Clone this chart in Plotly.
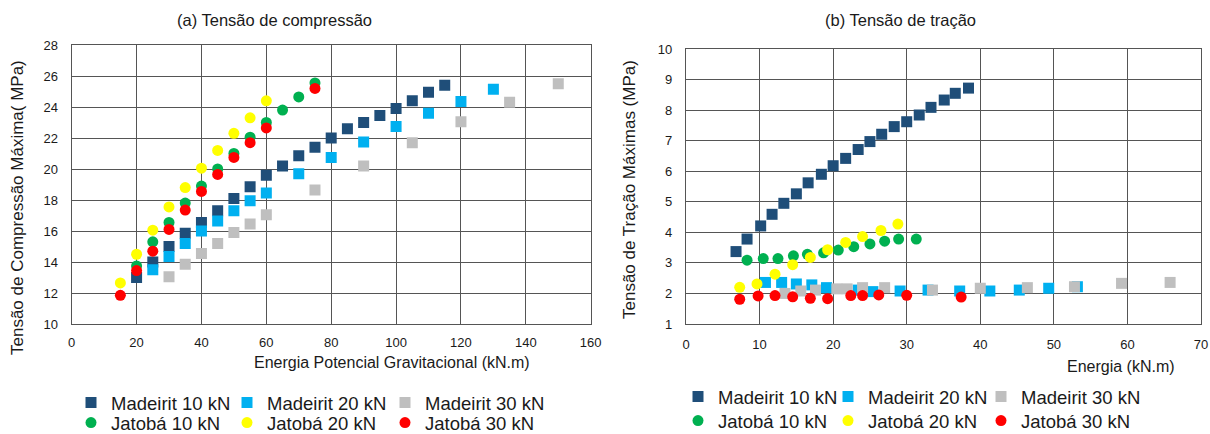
import plotly.graph_objects as go

# ---------------- data: (a) compression ----------------
a_mad10_x = [20, 25, 30, 35, 40, 45, 50, 55, 60, 65, 70, 75, 80, 85, 90, 95, 100, 105, 110, 115]
a_mad10_y = [13.0, 14.0, 15.0, 15.85, 16.55, 17.3, 18.1, 18.85, 19.6, 20.2, 20.85, 21.4, 22.0, 22.6, 23.0, 23.45, 23.9, 24.4, 24.95, 25.4]
a_mad20_x = [25, 30, 35, 40, 45, 50, 55, 60, 70, 80, 90, 100, 110, 120, 130]
a_mad20_y = [13.5, 14.35, 15.2, 16.0, 16.65, 17.3, 17.95, 18.45, 19.7, 20.75, 21.75, 22.75, 23.6, 24.35, 25.15]
a_mad30_x = [30, 35, 40, 45, 50, 55, 60, 75, 90, 105, 120, 135, 150]
a_mad30_y = [13.05, 13.85, 14.55, 15.2, 15.9, 16.45, 17.05, 18.65, 20.2, 21.7, 23.05, 24.3, 25.5]
a_jat10_x = [20, 25, 30, 35, 40, 45, 50, 55, 60, 65, 70, 75]
a_jat10_y = [13.75, 15.3, 16.55, 17.8, 18.9, 20.0, 21.0, 22.05, 23.0, 23.8, 24.65, 25.55]
a_jat20_x = [15, 20, 25, 30, 35, 40, 45, 50, 55, 60]
a_jat20_y = [12.65, 14.5, 16.05, 17.55, 18.8, 20.05, 21.2, 22.3, 23.3, 24.4]
a_jat30_x = [15, 20, 25, 30, 35, 40, 45, 50, 55, 60, 75]
a_jat30_y = [11.85, 13.45, 14.7, 16.1, 17.35, 18.55, 19.65, 20.75, 21.7, 22.65, 25.2]

# ---------------- data: (b) tension ----------------
b_mad10_x = [6.8, 8.3, 10.15, 11.7, 13.3, 15.0, 16.6, 18.4, 20.0, 21.7, 23.4, 25.0, 26.6, 28.3, 30.0, 31.7, 33.3, 35.1, 36.6, 38.4]
b_mad10_y = [3.37, 3.78, 4.21, 4.59, 4.95, 5.26, 5.62, 5.9, 6.18, 6.42, 6.71, 6.97, 7.21, 7.46, 7.62, 7.84, 8.09, 8.33, 8.55, 8.72]
b_mad20_x = [10.8, 13.0, 15.0, 17.1, 19.1, 23.4, 25.4, 29.1, 32.9, 37.2, 41.3, 45.3, 49.3, 53.2]
b_mad20_y = [2.36, 2.36, 2.31, 2.28, 2.19, 2.11, 2.06, 2.08, 2.11, 2.08, 2.08, 2.11, 2.17, 2.22]
b_mad30_x = [13.45, 15.6, 17.6, 20.5, 21.9, 24.0, 27.0, 33.5, 40.0, 46.4, 52.8, 59.2, 65.8]
b_mad30_y = [2.0, 2.08, 2.11, 2.15, 2.15, 2.19, 2.19, 2.11, 2.17, 2.19, 2.22, 2.33, 2.36]
b_jat10_x = [8.3, 10.5, 12.5, 14.6, 16.5, 18.7, 20.7, 22.8, 25.0, 27.0, 28.9, 31.3]
b_jat10_y = [3.09, 3.14, 3.14, 3.23, 3.28, 3.33, 3.42, 3.53, 3.62, 3.71, 3.78, 3.78]
b_jat20_x = [7.3, 9.65, 12.1, 14.5, 16.9, 19.25, 21.7, 24.0, 26.5, 28.8]
b_jat20_y = [2.2, 2.31, 2.63, 2.94, 3.18, 3.43, 3.67, 3.86, 4.06, 4.27]
b_jat30_x = [7.3, 9.8, 12.1, 14.5, 16.9, 19.25, 22.4, 24.0, 26.2, 30.0, 37.4]
b_jat30_y = [1.81, 1.92, 1.93, 1.89, 1.84, 1.83, 1.93, 1.93, 1.95, 1.94, 1.88]

series_names = ["Madeirit 10 kN", "Madeirit 20 kN", "Madeirit 30 kN",
                "Jatobá 10 kN", "Jatobá 20 kN", "Jatobá 30 kN"]
series_colors = ["#1F4E79", "#00B0F0", "#BFBFBF", "#00B050", "#FFFF00", "#FF0000"]
series_symbols = ["square", "square", "square", "circle", "circle", "circle"]

a_data = [(a_mad10_x, a_mad10_y), (a_mad20_x, a_mad20_y), (a_mad30_x, a_mad30_y),
          (a_jat10_x, a_jat10_y), (a_jat20_x, a_jat20_y), (a_jat30_x, a_jat30_y)]
b_data = [(b_mad10_x, b_mad10_y), (b_mad20_x, b_mad20_y), (b_mad30_x, b_mad30_y),
          (b_jat10_x, b_jat10_y), (b_jat20_x, b_jat20_y), (b_jat30_x, b_jat30_y)]

W, H = 1210, 434
FONT = "Liberation Sans, Arial, sans-serif"
TXT = "#1a1a1a"
GRID = "#555555"

def px(x):
    return x / W

def py(y):
    return 1 - y / H

fig = go.Figure()

# legend positions (window pixels): marker centres per column, row centres
a_cols = [95, 251, 409]
a_rows = [403, 423]
b_cols = [702, 852, 1005]
b_rows = [397, 421]

legend_layouts = {}
idx = 0
for chart, data, xa, ya, cols, rows in [("a", a_data, "x", "y", a_cols, a_rows),
                                        ("b", b_data, "x2", "y2", b_cols, b_rows)]:
    for i, (xs, ys) in enumerate(data):
        idx += 1
        lname = "legend" if idx == 1 else f"legend{idx}"
        fig.add_trace(go.Scatter(
            x=xs, y=ys, mode="markers", name=series_names[i],
            xaxis=xa, yaxis=ya,
            marker=dict(symbol=series_symbols[i], size=11, color=series_colors[i],
                        line=dict(width=0)),
            legend=lname, showlegend=True,
        ))
        c = cols[i % 3]
        r = rows[i // 3]
        legend_layouts[lname] = dict(
            x=px(c - 24), y=py(r), xanchor="left", yanchor="middle",
            bgcolor="rgba(0,0,0,0)", borderwidth=0,
            font=dict(family=FONT, size=18.5, color=TXT),
            itemwidth=30,
        )

axis_common = dict(
    showgrid=True, gridcolor=GRID, gridwidth=1.4,
    showline=True, linecolor=GRID, linewidth=1.4, mirror=True,
    zeroline=False, ticks="", automargin=False,
    tickfont=dict(family=FONT, size=13, color=TXT),
)

fig.update_layout(
    width=W, height=H,
    margin=dict(l=0, r=0, t=0, b=0, autoexpand=False),
    paper_bgcolor="white", plot_bgcolor="white",
    font=dict(family=FONT, color=TXT),
    xaxis=dict(domain=[px(71.7), px(590.7)], range=[0, 160], dtick=20, tick0=0,
               anchor="y", ticklabelstandoff=6, **axis_common),
    yaxis=dict(domain=[py(324), py(45)], range=[10, 28], dtick=2, tick0=10,
               anchor="x", ticklabelstandoff=10, **axis_common),
    xaxis2=dict(domain=[px(686), px(1201)], range=[0, 70], dtick=10, tick0=0,
                anchor="y2", ticklabelstandoff=8, **axis_common),
    yaxis2=dict(domain=[py(324), py(49)], range=[1, 10], dtick=1, tick0=1,
                anchor="x2", ticklabelstandoff=10, **axis_common),
    **legend_layouts,
)

ann = [
    dict(text="(a) Tensão de compressão", x=px(274), y=py(20), size=16.5, angle=0),
    dict(text="(b) Tensão de tração", x=px(900), y=py(20), size=16.5, angle=0),
    dict(text="Energia Potencial Gravitacional (kN.m)", x=px(392), y=py(362), size=16, angle=0),
    dict(text="Energia (kN.m)", x=px(1121), y=py(366), size=16, angle=0),
    dict(text="Tensão de Compressão Máxima( MPa)", x=px(18), y=py(208), size=17, angle=-90),
    dict(text="Tensão de Tração Máximas (MPa)", x=px(629), y=py(190), size=17, angle=-90),
]
for a in ann:
    fig.add_annotation(text=a["text"], x=a["x"], y=a["y"], xref="paper", yref="paper",
                       xanchor="center", yanchor="middle", showarrow=False,
                       textangle=a["angle"], font=dict(family=FONT, size=a["size"], color=TXT))

# remove the browser's default page margin so the figure fills the window exactly
fig.write_html("out.html",
               config={"displayModeBar": False},
               post_script="document.body.style.margin='0';document.body.style.overflow='hidden';")
